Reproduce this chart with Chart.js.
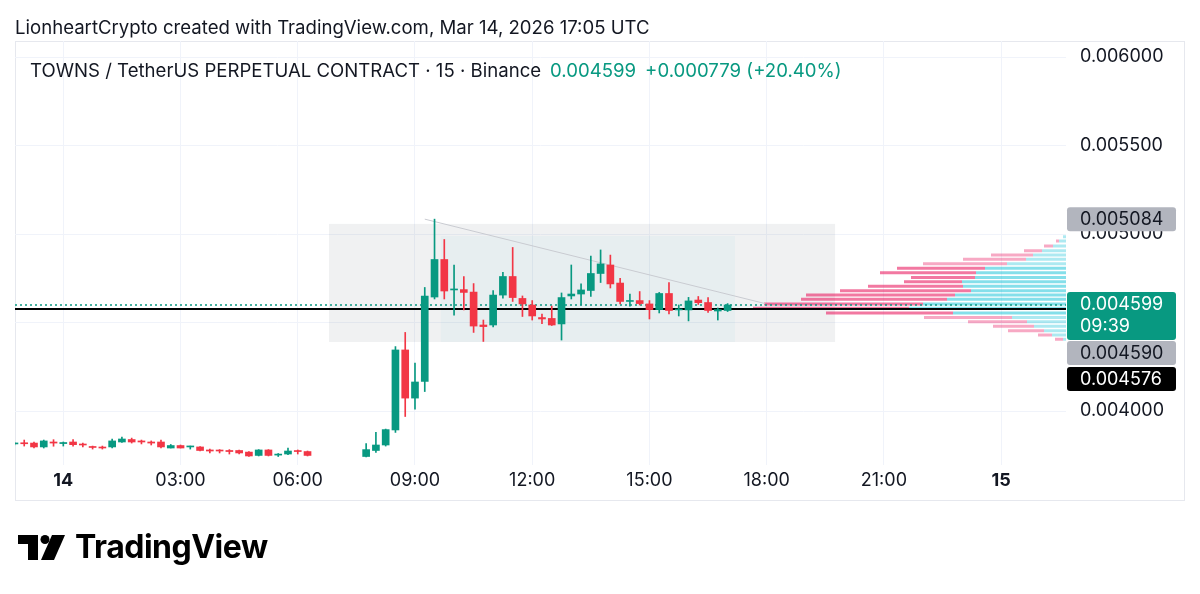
<!DOCTYPE html>
<html>
<head>
<meta charset="utf-8">
<script src="https://cdn.jsdelivr.net/npm/chart.js@4.4.1/dist/chart.umd.min.js"></script>
<style>
  body { margin: 0; background: #fff; font-family: Inter, "Noto Sans", sans-serif; color: #131722; }
  #wrap { position: relative; width: 1200px; height: 594px; overflow: hidden; }
  canvas { position: absolute; left: 0; top: 0; }
  .txt { position: absolute; white-space: nowrap; }
  #byline { left: 15px; top: 16px; font-size: 18.6px; }
  #legend { left: 30px; top: 59px; font-size: 18.6px; }
  #legend .g { color: #089981; margin-left: 9px; }
  #logo { left: 18px; top: 535px; }
  #brand { left: 75px; top: 527px; font-size: 32px; font-weight: 700; color: #000; letter-spacing: -0.5px; }
</style>
</head>
<body>
<div id="wrap">
  <canvas id="chart" width="1200" height="594"></canvas>
  <div class="txt" id="byline">LionheartCrypto created with TradingView.com, Mar 14, 2026 17:05 UTC</div>
  <div class="txt" id="legend">TOWNS / TetherUS PERPETUAL CONTRACT · 15 · Binance<span class="g">0.004599</span><span class="g">+0.000779 (+20.40%)</span></div>
  <svg class="txt" id="logo" width="48" height="26" viewBox="0 0 48 26">
    <rect x="0" y="0" width="20" height="9" fill="#000"/>
    <rect x="10" y="0" width="10" height="25" fill="#000"/>
    <circle cx="27" cy="4.5" r="4.5" fill="#000"/>
    <polygon points="34,0 47,0 36,25 23,25" fill="#000"/>
  </svg>
  <div class="txt" id="brand">TradingView</div>
</div>
<script>
// 15 min candles, time in hours from Mar 14 00:00 (gap 06:30-07:30 has no bars)
const times = [-1.25, -1, -0.75, -0.5, -0.25, 0, 0.25, 0.5, 0.75, 1, 1.25, 1.5, 1.75, 2, 2.25, 2.5, 2.75, 3, 3.25, 3.5, 3.75, 4, 4.25, 4.5, 4.75, 5, 5.25, 5.5, 5.75, 6, 6.25,
  7.75, 8, 8.25, 8.5, 8.75, 9, 9.25, 9.5, 9.75, 10, 10.25, 10.5, 10.75, 11, 11.25, 11.5, 11.75, 12, 12.25, 12.5, 12.75, 13, 13.25, 13.5, 13.75, 14, 14.25, 14.5, 14.75, 15, 15.25, 15.5, 15.75, 16, 16.25, 16.5, 16.75, 17]

const open = [0.003814, 0.003817, 0.003819, 0.003797, 0.003825, 0.003816, 0.003825, 0.003811, 0.003797, 0.003794, 0.003797, 0.003825, 0.003839, 0.003831, 0.003825, 0.003825, 0.003791, 0.003805, 0.003797, 0.003797, 0.003780, 0.003777, 0.003777, 0.003777, 0.003768, 0.003749, 0.003780, 0.003751, 0.003757, 0.003774, 0.003771,
  0.003743, 0.003777, 0.003808, 0.003893, 0.004345, 0.004073, 0.004167, 0.004644, 0.004856, 0.004684, 0.004686, 0.004672, 0.004486, 0.004486, 0.004655, 0.004760, 0.004636, 0.004599, 0.004528, 0.004523, 0.004492, 0.004650, 0.004661, 0.004681, 0.004777, 0.004825, 0.004723, 0.004619, 0.004624, 0.004605, 0.004573, 0.004664, 0.004571, 0.004571, 0.004627, 0.004613, 0.004565, 0.004568]
const high = [0.003822, 0.003836, 0.003825, 0.003836, 0.003838, 0.003825, 0.003838, 0.003819, 0.003802, 0.003802, 0.003842, 0.003853, 0.003847, 0.003836, 0.003831, 0.003836, 0.003811, 0.003808, 0.003802, 0.003799, 0.003785, 0.003782, 0.003782, 0.003780, 0.003771, 0.003782, 0.003782, 0.003760, 0.003791, 0.003780, 0.003774,
  0.003816, 0.003879, 0.003898, 0.004364, 0.004444, 0.004271, 0.004698, 0.005084, 0.004969, 0.004825, 0.004760, 0.004720, 0.004514, 0.004681, 0.004783, 0.004924, 0.004650, 0.004624, 0.004548, 0.004593, 0.004667, 0.004825, 0.004718, 0.004876, 0.004910, 0.004881, 0.004749, 0.004661, 0.004675, 0.004624, 0.004670, 0.004726, 0.004599, 0.004642, 0.004647, 0.004641, 0.004582, 0.004607]
const low = [0.003808, 0.003802, 0.003791, 0.003791, 0.003801, 0.003802, 0.003802, 0.003797, 0.003785, 0.003785, 0.003791, 0.003822, 0.003819, 0.003814, 0.003808, 0.003791, 0.003791, 0.003791, 0.003785, 0.003774, 0.003763, 0.003763, 0.003757, 0.003757, 0.003743, 0.003746, 0.003746, 0.003743, 0.003754, 0.003757, 0.003746,
  0.003740, 0.003766, 0.003802, 0.003879, 0.003969, 0.004011, 0.004110, 0.004633, 0.004633, 0.004542, 0.004571, 0.004444, 0.004393, 0.004475, 0.004638, 0.004619, 0.004534, 0.004514, 0.004494, 0.004483, 0.004401, 0.004633, 0.004599, 0.004647, 0.004726, 0.004695, 0.004605, 0.004593, 0.004599, 0.004520, 0.004554, 0.004548, 0.004537, 0.004509, 0.004602, 0.004557, 0.004514, 0.004562]
const close = [0.003816, 0.003815, 0.003797, 0.003831, 0.003819, 0.003822, 0.003810, 0.003808, 0.003794, 0.003791, 0.003831, 0.003842, 0.003825, 0.003825, 0.003819, 0.003797, 0.003805, 0.003791, 0.003799, 0.003777, 0.003774, 0.003774, 0.003771, 0.003763, 0.003746, 0.003780, 0.003749, 0.003754, 0.003774, 0.003771, 0.003749,
  0.003782, 0.003808, 0.003895, 0.004345, 0.004073, 0.004164, 0.004650, 0.004856, 0.004678, 0.004689, 0.004670, 0.004480, 0.004477, 0.004655, 0.004760, 0.004641, 0.004605, 0.004537, 0.004520, 0.004486, 0.004641, 0.004661, 0.004684, 0.004777, 0.004831, 0.004718, 0.004619, 0.004624, 0.004607, 0.004573, 0.004664, 0.004568, 0.004576, 0.004622, 0.004612, 0.004568, 0.004573, 0.004599]

// volume profile rows (price level, up volume, down volume)
const vpLevels = [0.004405, 0.004429, 0.004454, 0.004479, 0.004505, 0.004529, 0.004554, 0.004580, 0.004605, 0.004631, 0.004655, 0.004680, 0.004705, 0.004731, 0.004755, 0.004781, 0.004806, 0.004832, 0.004857, 0.004881, 0.004906, 0.004932, 0.004960, 0.004985]
const vpUp = [3, 14, 22, 32, 39, 54, 113, 157, 143, 119, 111, 95, 103, 104, 91, 90, 81, 59, 40, 33, 24, 13, 7, 3]
const vpDown = [8, 14, 36, 41, 59, 88, 127, 156, 159, 146, 149, 131, 95, 58, 64, 96, 88, 84, 63, 42, 18, 9, 3, 0]
const vpValueArea = [6, 16] // first and last row index of the value area

// drawings
const boxStart = [6.8, 9.66]
const boxEnd = [19.75, 17.19]
const boxLow = [0.004390, 0.004390]
const boxHigh = [0.005057, 0.004989]
const trendX = [9.25, 17.96]
const trendY = [0.005084, 0.004607]
const lastPrice = 0.004599
const linePrice = 0.004576
const tagPrices = [0.005084, 0.004599, 0.004590, 0.004576]
const tagTexts = ['0.005084', '0.004599', '0.004590', '0.004576']
const countdown = '09:39'

const X_MIN = -1.236, X_MAX = 25.66
const Y_MIN = 0.003695, Y_MAX = 0.0060905
const UP = '#089981', DOWN = '#f23645'

Chart.defaults.font.family = 'Inter'

const candleColors = times.map((t, i) => close[i] >= open[i] ? UP : DOWN)

// volume profile as thin line segments, cyan from the right edge then pink
function vpSegments(inVA, up) {
  const pts = []
  vpLevels.forEach((p, i) => {
    const va = i >= vpValueArea[0] && i <= vpValueArea[1]
    if (va !== inVA) return
    const a = up ? 0 : vpUp[i]
    const b = up ? vpUp[i] : vpUp[i] + vpDown[i]
    if (b <= a) return
    pts.push({ x: a, y: p }, { x: b, y: p }, { x: b, y: null })
  })
  return pts
}
function vpSet(inVA, up, color) {
  return { type: 'line', xAxisID: 'xv', data: vpSegments(inVA, up), borderColor: color, borderWidth: 3,
    borderCapStyle: 'butt', pointRadius: 0, spanGaps: false, order: 7 }
}

const framePlugin = {
  id: 'frame',
  beforeDraw(chart) {
    const c = chart.ctx
    c.save()
    c.strokeStyle = '#e6e8ee'
    c.lineWidth = 1
    c.strokeRect(15.5, 41.5, 1169, 459)
    c.restore()
  }
}

const boxPlugin = {
  id: 'boxes',
  beforeDatasetsDraw(chart) {
    const { ctx, scales: { x, y } } = chart
    const fills = ['rgba(120,123,134,0.11)', 'rgba(0,150,170,0.04)']
    ctx.save()
    boxStart.forEach((s, k) => {
      const l = x.getPixelForValue(s), r = x.getPixelForValue(boxEnd[k])
      const t = y.getPixelForValue(boxHigh[k]), b = y.getPixelForValue(boxLow[k])
      ctx.fillStyle = fills[k]
      ctx.fillRect(l, t, r - l, b - t)
    })
    ctx.restore()
  }
}

const tagPlugin = {
  id: 'tags',
  afterDraw(chart) {
    const { ctx, scales: { y } } = chart
    const left = chart.chartArea.right + 1, w = 109, tx = left + 13
    ctx.save()
    ctx.font = '18px Inter'
    ctx.textBaseline = 'middle'
    function tag(top, h, bg, fg, lines) {
      ctx.fillStyle = bg
      ctx.beginPath()
      ctx.roundRect(left, top, w, h, 3)
      ctx.fill()
      ctx.fillStyle = fg
      lines.forEach((s, i) => ctx.fillText(s, tx, top + 12.5 + i * 22))
    }
    const y0 = y.getPixelForValue(tagPrices[0])
    tag(y0 - 12, 24, '#b2b5be', '#131722', [tagTexts[0]])
    const g = y.getPixelForValue(tagPrices[1]) - 13
    tag(g, 48, UP, '#fff', [tagTexts[1], countdown])
    tag(g + 49, 24, '#b2b5be', '#131722', [tagTexts[2]])
    tag(g + 75, 24, '#000', '#fff', [tagTexts[3]])
    ctx.restore()
  }
}

new Chart(document.getElementById('chart'), {
  type: 'line',
  data: {
    datasets: [
      { type: 'bar', data: times.map((t, i) => ({ x: t, y: [open[i], close[i]] })), backgroundColor: candleColors,
        barThickness: 7, minBarLength: 1, grouped: false, order: 2 },
      { type: 'bar', data: times.map((t, i) => ({ x: t, y: [low[i], high[i]] })), backgroundColor: candleColors,
        barThickness: 1, grouped: false, order: 3 },
      { data: [{ x: X_MIN, y: lastPrice }, { x: X_MAX, y: lastPrice }], borderColor: UP, borderWidth: 1.5,
        borderDash: [2, 3], pointRadius: 0, order: 4 },
      { data: [{ x: X_MIN, y: linePrice }, { x: X_MAX, y: linePrice }], borderColor: '#000', borderWidth: 2,
        pointRadius: 0, order: 5 },
      { data: [{ x: trendX[0], y: trendY[0] }, { x: trendX[1], y: trendY[1] }], borderColor: '#c9cbd1', borderWidth: 1,
        pointRadius: 0, order: 6 },
      vpSet(false, true, 'rgba(0,188,212,0.32)'),
      vpSet(false, false, 'rgba(233,30,99,0.38)'),
      vpSet(true, true, 'rgba(0,188,212,0.48)'),
      vpSet(true, false, 'rgba(233,30,99,0.6)')
    ]
  },
  options: {
    responsive: false,
    animation: false,
    devicePixelRatio: 1,
    layout: { padding: { left: 15, top: 41, right: 0, bottom: 94 } },
    plugins: { legend: { display: false }, tooltip: { enabled: false } },
    scales: {
      x: {
        type: 'linear', min: X_MIN, max: X_MAX, offset: false,
        grid: { color: '#f0f3fa', drawTicks: false, offset: false },
        border: { display: false },
        ticks: {
          stepSize: 3, includeBounds: false, padding: 5, color: '#131722', maxRotation: 0, autoSkip: false,
          font: (c) => ({ size: 18, weight: c.tick && c.tick.value % 24 === 0 ? 'bold' : 'normal' }),
          callback: (v) => v === 0 ? '14' : v === 24 ? '15' : String(v).padStart(2, '0') + ':00'
        },
        afterFit: (s) => { s.height = 35 }
      },
      xv: { type: 'linear', axis: 'x', display: false, reverse: true, offset: false, min: 0, max: 1051 },
      y: {
        type: 'linear', position: 'right', min: Y_MIN, max: Y_MAX,
        grid: { color: '#f0f3fa', drawTicks: false },
        border: { display: false },
        ticks: {
          stepSize: 0.0005, includeBounds: false, padding: 14, crossAlign: 'near', color: '#131722',
          font: { size: 18 }, callback: (v) => v.toFixed(6)
        },
        afterFit: (s) => { s.width = 134 }
      }
    }
  },
  plugins: [framePlugin, boxPlugin, tagPlugin]
})
</script>
</body>
</html>
